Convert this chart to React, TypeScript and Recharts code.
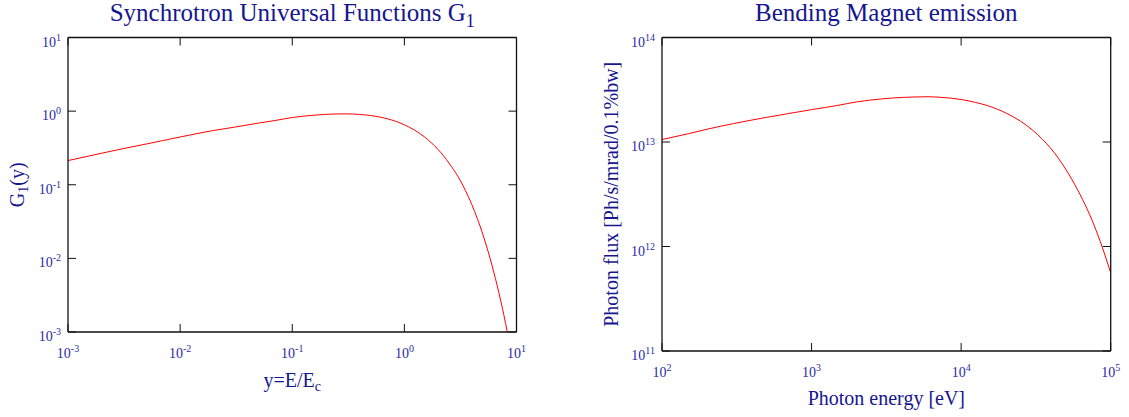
import React from "react";
import { LineChart, Line, XAxis, YAxis, Label } from "recharts";

const FONT = '"Liberation Serif", "Times New Roman", Times, serif';
const TITLE_COLOR = "#16168f";
const TICK_COLOR = "#2a2aa6";
const FRAME = "#111111";
const TICK_LEN = 8;

// Synchrotron universal function G1(y), y = E/Ec
const g1Y = [0.001, 0.002, 0.003, 0.005, 0.007, 0.01, 0.02, 0.03, 0.05, 0.07, 0.1, 0.15, 0.2, 0.3, 0.4, 0.5, 0.7, 1, 1.5, 2, 2.5, 3, 3.5, 4, 5, 6, 7, 8, 9];
const g1Values = [0.213, 0.268, 0.306, 0.358, 0.398, 0.445, 0.547, 0.603, 0.688, 0.745, 0.818, 0.876, 0.904, 0.918, 0.901, 0.872, 0.79, 0.652, 0.45, 0.301, 0.197, 0.13, 0.084, 0.0535, 0.0214, 0.0084, 0.0033, 0.0013, 0.0005];
const g1XTicks = [1e-3, 1e-2, 1e-1, 1, 10];
const g1YTicks = [1e-3, 1e-2, 1e-1, 1, 10];

// Bending magnet spectrum: photon energy [eV] vs flux [Ph/s/mrad/0.1%bw]
const bmEnergy = [100, 150, 200, 300, 500, 700, 1000, 1500, 2000, 3000, 4000, 5000, 6000, 7000, 8500, 10000, 12500, 15000, 20000, 25000, 30000, 35000, 40000, 50000, 60000, 70000, 80000, 90000, 100000];
const bmFlux = [1.056e13, 1.2e13, 1.325e13, 1.5e13, 1.72e13, 1.87e13, 2.04e13, 2.24e13, 2.42e13, 2.59e13, 2.67e13, 2.7e13, 2.71e13, 2.69e13, 2.63e13, 2.55e13, 2.39e13, 2.23e13, 1.89e13, 1.58e13, 1.3e13, 1.06e13, 8.6e12, 5.5e12, 3.5e12, 2.24e12, 1.42e12, 8.9e11, 5.6e11];
const bmXTicks = [1e2, 1e3, 1e4, 1e5];
const bmYTicks = [1e11, 1e12, 1e13, 1e14];

const g1Data = g1Y.map((x, i) => ({ x, g: g1Values[i] }));
const bmData = bmEnergy.map((x, i) => ({ x, f: bmFlux[i] }));

const exponentOf = (v: number) => Math.round(Math.log10(v));

const PowerText = ({ x, y, value, anchor }: { x: number; y: number; value: number; anchor: "start" | "middle" | "end" }) => (
  <text x={x} y={y} textAnchor={anchor} fill={TICK_COLOR} fontFamily={FONT} fontSize={14}>
    <tspan>10</tspan>
    <tspan dy={-6} fontSize={10}>{String(exponentOf(value))}</tspan>
  </text>
);

const bottomTick = (labelGap: number) => (p: any) => (
  <g>
    <line x1={p.x} y1={p.y} x2={p.x} y2={p.y - TICK_LEN} stroke={FRAME} strokeWidth={1} />
    <PowerText x={p.x} y={p.y + labelGap} value={p.payload.value} anchor="middle" />
  </g>
);

const topTick = (p: any) => (
  <line x1={p.x} y1={p.y} x2={p.x} y2={p.y + TICK_LEN} stroke={FRAME} strokeWidth={1} />
);

const leftTick = (p: any) => (
  <g>
    <line x1={p.x} y1={p.y} x2={p.x + TICK_LEN} y2={p.y} stroke={FRAME} strokeWidth={1} />
    <PowerText x={p.x - 7} y={p.y + 9} value={p.payload.value} anchor="end" />
  </g>
);

const rightTick = (p: any) => (
  <line x1={p.x} y1={p.y} x2={p.x - TICK_LEN} y2={p.y} stroke={FRAME} strokeWidth={1} />
);

// Chart title placed above the top axis box
const titleContent = (main: string, sub?: string) => (props: any) => {
  const vb = props.viewBox || { x: 0, y: 0, width: 0, height: 0 };
  const cx = vb.x + vb.width / 2;
  return (
    <text x={cx} y={vb.y - 6.5} textAnchor="middle" fill={TITLE_COLOR} fontFamily={FONT} fontSize={25}>
      <tspan>{main}</tspan>
      {sub ? <tspan dy={6} fontSize={18}>{sub}</tspan> : null}
    </text>
  );
};

// Axis title below the bottom axis line
const xTitleContent = (main: string, sub: string | undefined, gap: number) => (props: any) => {
  const vb = props.viewBox || { x: 0, y: 0, width: 0, height: 0 };
  const cx = vb.x + vb.width / 2;
  return (
    <text x={cx} y={vb.y + gap} textAnchor="middle" fill={TITLE_COLOR} fontFamily={FONT} fontSize={20}>
      <tspan>{main}</tspan>
      {sub ? <tspan dy={4} fontSize={14}>{sub}</tspan> : null}
    </text>
  );
};

// Rotated axis title to the left of the y axis
const yTitleContent = (parts: { t: string; sub?: boolean }[], dx: number) => (props: any) => {
  const vb = props.viewBox || { x: 0, y: 0, width: 0, height: 0 };
  const px = vb.x + vb.width - dx;
  const py = vb.y + vb.height / 2;
  return (
    <text
      x={px}
      y={py}
      transform={`rotate(-90 ${px} ${py})`}
      textAnchor="middle"
      fill={TITLE_COLOR}
      fontFamily={FONT}
      fontSize={20}
    >
      {parts.map((pt, i) => {
        const prevSub = i > 0 && parts[i - 1].sub;
        const dy = pt.sub ? 4 : prevSub ? -4 : 0;
        return (
          <tspan key={i} dy={dy} fontSize={pt.sub ? 14 : 20}>
            {pt.t}
          </tspan>
        );
      })}
    </text>
  );
};

export default function App() {
  return (
    <div style={{ position: "absolute", left: 0, top: 0, width: 1129, height: 417, background: "#ffffff" }}>
      <div style={{ position: "absolute", left: 0, top: 0 }}>
        <LineChart width={560} height={417} data={g1Data} margin={{ top: 27.5, right: 33.5, bottom: 25, left: 8 }}>
          <XAxis
            xAxisId="bottom"
            dataKey="x"
            type="number"
            scale="log"
            domain={[1e-3, 10]}
            ticks={g1XTicks}
            interval={0}
            allowDataOverflow
            orientation="bottom"
            height={60}
            tickSize={0}
            tickMargin={0}
            tickLine={false}
            axisLine={{ stroke: FRAME, strokeWidth: 1.3 }}
            tick={bottomTick(26)}
          >
            <Label content={xTitleContent("y=E/E", "c", 55)} />
          </XAxis>
          <XAxis
            xAxisId="top"
            dataKey="x"
            type="number"
            scale="log"
            domain={[1e-3, 10]}
            ticks={g1XTicks}
            interval={0}
            allowDataOverflow
            orientation="top"
            height={10}
            tickSize={0}
            tickMargin={0}
            tickLine={false}
            axisLine={{ stroke: FRAME, strokeWidth: 1.3 }}
            tick={topTick}
          >
            <Label content={titleContent("Synchrotron Universal Functions G", "1")} />
          </XAxis>
          <YAxis
            yAxisId="left"
            type="number"
            scale="log"
            domain={[1e-3, 10]}
            ticks={g1YTicks}
            interval={0}
            allowDataOverflow
            orientation="left"
            width={60}
            tickSize={0}
            tickMargin={0}
            tickLine={false}
            axisLine={{ stroke: FRAME, strokeWidth: 1.3 }}
            tick={leftTick}
          >
            <Label content={yTitleContent([{ t: "G" }, { t: "1", sub: true }, { t: "(y)" }], 44)} />
          </YAxis>
          <YAxis
            yAxisId="right"
            type="number"
            scale="log"
            domain={[1e-3, 10]}
            ticks={g1YTicks}
            interval={0}
            allowDataOverflow
            orientation="right"
            width={10}
            tickSize={0}
            tickMargin={0}
            tickLine={false}
            axisLine={{ stroke: FRAME, strokeWidth: 1.3 }}
            tick={rightTick}
          />
          <Line
            xAxisId="bottom"
            yAxisId="left"
            dataKey="g"
            type="monotone"
            stroke="#ff0000"
            strokeWidth={1}
            dot={false}
            activeDot={false}
            isAnimationActive={false}
          />
        </LineChart>
      </div>
      <div style={{ position: "absolute", left: 560, top: 0 }}>
        <LineChart width={569} height={417} data={bmData} margin={{ top: 27.5, right: 8.3, bottom: 6, left: 42 }}>
          <XAxis
            xAxisId="bottom"
            dataKey="x"
            type="number"
            scale="log"
            domain={[1e2, 1e5]}
            ticks={bmXTicks}
            interval={0}
            allowDataOverflow
            orientation="bottom"
            height={60}
            tickSize={0}
            tickMargin={0}
            tickLine={false}
            axisLine={{ stroke: FRAME, strokeWidth: 1.3 }}
            tick={bottomTick(26)}
          >
            <Label content={xTitleContent("Photon energy [eV]", undefined, 54)} />
          </XAxis>
          <XAxis
            xAxisId="top"
            dataKey="x"
            type="number"
            scale="log"
            domain={[1e2, 1e5]}
            ticks={bmXTicks}
            interval={0}
            allowDataOverflow
            orientation="top"
            height={10}
            tickSize={0}
            tickMargin={0}
            tickLine={false}
            axisLine={{ stroke: FRAME, strokeWidth: 1.3 }}
            tick={topTick}
          >
            <Label content={titleContent("Bending Magnet emission")} />
          </XAxis>
          <YAxis
            yAxisId="left"
            type="number"
            scale="log"
            domain={[1e11, 1e14]}
            ticks={bmYTicks}
            interval={0}
            allowDataOverflow
            orientation="left"
            width={60}
            tickSize={0}
            tickMargin={0}
            tickLine={false}
            axisLine={{ stroke: FRAME, strokeWidth: 1.3 }}
            tick={leftTick}
          >
            <Label content={yTitleContent([{ t: "Photon flux [Ph/s/mrad/0.1%bw]" }], 44)} />
          </YAxis>
          <YAxis
            yAxisId="right"
            type="number"
            scale="log"
            domain={[1e11, 1e14]}
            ticks={bmYTicks}
            interval={0}
            allowDataOverflow
            orientation="right"
            width={10}
            tickSize={0}
            tickMargin={0}
            tickLine={false}
            axisLine={{ stroke: FRAME, strokeWidth: 1.3 }}
            tick={rightTick}
          />
          <Line
            xAxisId="bottom"
            yAxisId="left"
            dataKey="f"
            type="monotone"
            stroke="#ff0000"
            strokeWidth={1}
            dot={false}
            activeDot={false}
            isAnimationActive={false}
          />
        </LineChart>
      </div>
    </div>
  );
}
